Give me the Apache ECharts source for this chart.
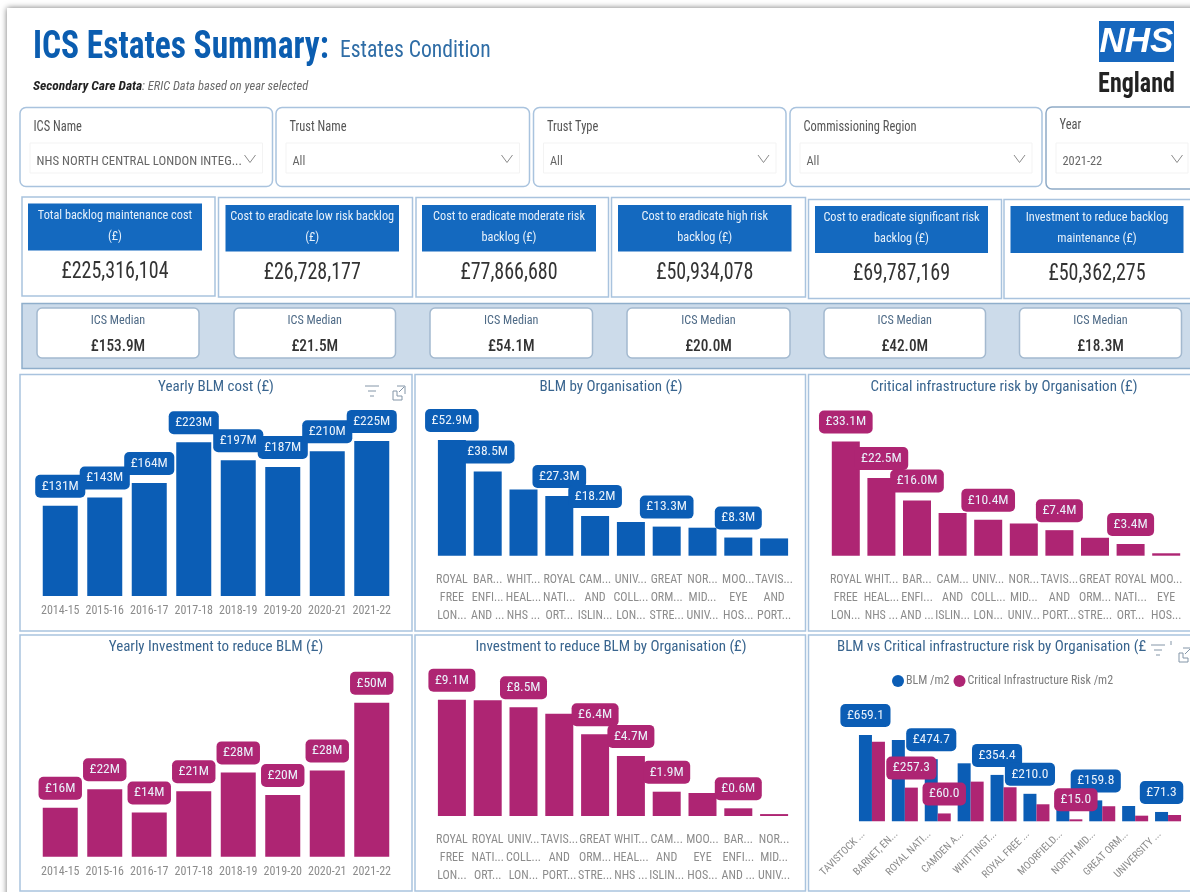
<!DOCTYPE html>
<html>
<head>
<meta charset="utf-8">
<title>ICS Estates Summary</title>
<script src="https://cdn.jsdelivr.net/npm/echarts@6/dist/echarts.min.js"></script>
<style>
html,body{margin:0;padding:0;background:#fff;overflow:hidden}
#chart{width:1190px;height:892px}
</style>
</head>
<body>
<div id="chart"></div>
<script>
// ---------- data ----------
const years = ['2014-15','2015-16','2016-17','2017-18','2018-19','2019-20','2020-21','2021-22'];
const yearlyBlm = [131,143,164,223,197,187,210,225];
const yearlyBlmLabels = ['£131M','£143M','£164M','£223M','£197M','£187M','£210M','£225M'];
const yearlyInvest = [16.0,22.1,14.5,21.4,27.6,20.2,28.2,50.4];
const yearlyInvestLabels = ['£16M','£22M','£14M','£21M','£28M','£20M','£28M','£50M'];

const blmOrgNames = ['ROYAL\nFREE\nLON...','BAR...\nENFI...\nAND ...','WHIT...\nHEAL...\nNHS ...','ROYAL\nNATI...\nORT...','CAM...\nAND\nISLIN...','UNIV...\nCOLL...\nLON...','GREAT\nORM...\nSTRE...','NOR...\nMID...\nUNIV...','MOO...\nEYE\nHOS...','TAVIS...\nAND\nPORT...'];
const blmOrg = [52.9,38.5,30.3,27.3,18.2,15.4,13.3,12.8,8.3,7.9];
const blmOrgLabels = ['£52.9M','£38.5M',null,'£27.3M','£18.2M',null,'£13.3M',null,'£8.3M',null];

const criticalOrgNames = ['ROYAL\nFREE\nLON...','WHIT...\nHEAL...\nNHS ...','BAR...\nENFI...\nAND ...','CAM...\nAND\nISLIN...','UNIV...\nCOLL...\nLON...','NOR...\nMID...\nUNIV...','TAVIS...\nAND\nPORT...','GREAT\nORM...\nSTRE...','ROYAL\nNATI...\nORT...','MOO...\nEYE\nHOS...'];
const criticalOrg = [33.1,22.5,16.0,12.4,10.4,9.3,7.4,5.2,3.4,0.7];
const criticalOrgLabels = ['£33.1M','£22.5M','£16.0M',null,'£10.4M',null,'£7.4M',null,'£3.4M',null];

const investOrgNames = ['ROYAL\nFREE\nLON...','ROYAL\nNATI...\nORT...','UNIV...\nCOLL...\nLON...','TAVIS...\nAND\nPORT...','GREAT\nORM...\nSTRE...','WHIT...\nHEAL...\nNHS ...','CAM...\nAND\nISLIN...','MOO...\nEYE\nHOS...','BAR...\nENFI...\nAND ...','NOR...\nMID...\nUNIV...'];
const investOrg = [9.1,9.05,8.5,8.0,6.4,4.7,1.9,1.8,0.6,0.15];
const investOrgLabels = ['£9.1M',null,'£8.5M',null,'£6.4M','£4.7M','£1.9M',null,'£0.6M',null];

const perM2Names = ['TAVISTOCK ...','BARNET, EN...','ROYAL NATI...','CAMDEN A...','WHITTINGT...','ROYAL FREE ...','MOORFIELD...','NORTH MID...','GREAT ORM...','UNIVERSITY ...'];
const blmPerM2 = [659.1,621,474.7,443,354.4,210.0,165,159.8,117,71.3];
const blmPerM2Labels = ['£659.1',null,'£474.7',null,'£354.4','£210.0',null,'£159.8',null,'£71.3'];
const criticalPerM2 = [608,257.3,60.0,303,260,130,15.0,115,43,48];
const criticalPerM2Labels = [null,'£257.3','£60.0',null,null,null,'£15.0',null,null,null];

const filterNames = ['ICS Name','Trust Name','Trust Type','Commissioning Region','Year'];
const filterValues = ['NHS NORTH CENTRAL LONDON INTEG...','All','All','All','2021-22'];
const kpiTitles = ['Total backlog maintenance cost\n(£)','Cost to eradicate low risk backlog\n(£)','Cost to eradicate moderate risk\nbacklog (£)','Cost to eradicate high risk\nbacklog (£)','Cost to eradicate significant risk\nbacklog (£)','Investment to reduce backlog\nmaintenance (£)'];
const kpiValues = ['£225,316,104','£26,728,177','£77,866,680','£50,934,078','£69,787,169','£50,362,275'];
const medianValues = ['£153.9M','£21.5M','£54.1M','£20.0M','£42.0M','£18.3M'];
const panelTitles = ['Yearly BLM cost (£)','BLM by Organisation (£)','Critical infrastructure risk by Organisation (£)','Yearly Investment to reduce BLM (£)','Investment to reduce BLM by Organisation (£)','BLM vs Critical infrastructure risk by Organisation (£'];

// ---------- styling ----------
const FONT = '"Roboto Condensed","Liberation Sans",sans-serif';
const BLUE = '#0B5DB5', PINK = '#AE2573', EDGE = '#A9C3DE';

const g = [];
function box(x, y, x2, y2, o) {
  o = o || {};
  g.push({type:'rect', silent:true, z:o.z||0,
    shape:{x, y, width:x2-x, height:y2-y, r:o.r||0},
    style:{fill:o.fill||'#fff', stroke:o.stroke||null, lineWidth:o.lw||1.5,
           shadowBlur:o.blur||0, shadowColor:o.shadow||'transparent'}});
}
function txt(text, x, y, size, fill, o) {
  o = o || {};
  const yy = y + 1.5;
  const el = {type:'text', silent:true, z:o.z||1,
    style:{text, x, y:yy, fontSize:size, fontFamily:o.family||FONT, fontWeight:o.weight||'normal',
      fontStyle:o.style||'normal', fill, align:o.align||'left', verticalAlign:'middle', lineHeight:o.lh||undefined}};
  if (o.sx) { el.scaleX = o.sx; el.originX = x; el.originY = yy; }
  g.push(el);
}
function line(points, color, lw) {
  g.push({type:'polyline', silent:true, z:1, shape:{points},
    style:{stroke:color, lineWidth:lw||1, fill:null}});
}

// page card
box(7, 8, 1300, 1000, {blur:6, shadow:'rgba(0,0,0,.55)'});

// header
txt('ICS Estates Summary:', 33, 47, 38, '#0B5DB0', {weight:'bold', sx:0.88});
txt('Estates Condition', 340, 50, 23, '#2F6DA6', {sx:0.94});
txt('Secondary Care Data', 33, 85, 13.5, '#222', {weight:'bold', style:'italic'});
txt(': ERIC Data based on year selected', 142, 85, 12.5, '#6a6a6a', {style:'italic'});

// logo
box(1099, 21, 1174, 62, {fill:'#1667BE'});
txt('NHS', 1136.5, 41, 35, '#fff', {weight:'bold', style:'italic', align:'center', family:'"Liberation Sans",sans-serif'});
txt('England', 1136.5, 83.5, 27, '#222', {weight:'bold', align:'center', sx:0.89});

// filters
const filterX = [[20,272.5],[276,529.5],[533.5,786],[790,1042],[1046,1260]];
filterNames.forEach((n,i)=>{
  const [a,b]=filterX[i], yr=i===4;
  box(a, yr?107:107.5, b, yr?189:186.5, {r:6, stroke:yr?'#8FAAC6':EDGE});
  box(a+10, 143, Math.min(b-10,1188), 173, {fill:'#fff', stroke:'#F3F3F3', lw:1, z:1});
  txt(n, a+13.5, yr?124:126, 14, '#555', {z:2, sx:0.89});
  txt(filterValues[i], a+16.5, 160, i===0?13.5:13, '#666', {z:2, sx:0.95});
  const cx = i===4 ? 1177 : b-22.5;
  line([[cx-5.5,155],[cx,162.5],[cx+5.5,155]], '#8b8b8b', 1);
});

// KPI cards
const kpiX = [[22,215],[218.5,412.5],[416,608.5],[611.5,805.5],[808.5,1001.5],[1004,1260]];
const kpiHead = [[28,202],[225.5,399],[422,596],[618,791.5],[815,988],[1010.5,1183.5]];
const kpiY = [[197,296],[197.5,297],[197.5,297],[197.5,297],[199.5,298.5],[199.5,298.5]];
const kpiHeadY = [[203.5,250.5],[205,251.5],[205,251.5],[205,251.5],[206,253],[206,253]];
kpiTitles.forEach((t,i)=>{
  box(kpiX[i][0],kpiY[i][0],kpiX[i][1],kpiY[i][1],{stroke:EDGE});
  box(kpiHead[i][0],kpiHeadY[i][0],kpiHead[i][1],kpiHeadY[i][1],{fill:'#1469BF',z:1});
  const cx=(kpiHead[i][0]+kpiHead[i][1])/2;
  txt(t,cx,kpiHeadY[i][0]+21,13.2,'#E6F0FA',{align:'center',lh:21,z:2,sx:0.93});
  txt(kpiValues[i],cx,kpiHeadY[i][1]+20,23,'#333',{align:'center',z:2,sx:0.87});
});

// median band
box(22, 303.5, 1260, 368.5, {fill:'#CCDBEA', stroke:'#8FAECB'});
const medX = [[37,199],[234,395.5],[430,592.5],[627,790],[824,985.5],[1019.5,1181.5]];
medianValues.forEach((m,i)=>{
  const [a,b]=medX[i], cx=(a+b)/2;
  box(a,308,b,358,{r:5,stroke:'#A3B9CF',z:1});
  txt('ICS Median',cx,319.5,13.5,'#4E6A86',{align:'center',z:2,sx:0.9});
  txt(m,cx,345.5,17,'#333',{align:'center',z:2,sx:0.9,weight:500});
});

// chart panels
const panelX = [[20,412],[415,805.5],[808.5,1260]];
const panelY = [[374.5,631],[635,891]];
panelY.forEach(([t,b])=>panelX.forEach(([l,r])=>box(l,t,r,b,{stroke:EDGE})));

// panel icons
function icons(fx, fy, ex, ey) {
  line([[fx-7,fy-5],[fx+7,fy-5]],'#8496A8',1);
  line([[fx-4,fy],[fx+4,fy]],'#8496A8',1);
  line([[fx-2,fy+5],[fx+2,fy+5]],'#8496A8',1);
  line([[ex-2,ey-7],[ex+6,ey-7],[ex+6,ey+1]],'#8496A8',1);
  line([[ex-6,ey-2],[ex-6,ey+7],[ex+3,ey+7],[ex+3,ey+3],[ex-2,ey+3],[ex-2,ey-2],[ex-6,ey-2]],'#8496A8',1);
  line([[ex,ey-1],[ex+5,ey-6]],'#8496A8',1);
}
icons(372,391,399,393);
icons(1158,650,1185,655);
line([[1171,641],[1171,645]],'#8496A8',1);

// ---------- charts ----------
const grids = [
  {left:38,  width:356, top:396, height:200},
  {left:434, width:358, top:396, height:159.7},
  {left:828, width:356, top:396, height:159.7},
  {left:38,  width:356, top:660, height:196.7},
  {left:434, width:358, top:660, height:156},
  {left:855.5, width:329, top:690, height:131.3}
];
const yMax = [290.1, 73, 46.3, 64.4, 12.2, 1003];
const xNames = [years, blmOrgNames, criticalOrgNames, years, investOrgNames, perM2Names];

function labelled(values, labels) {
  return values.map((v,i)=>({value:v, label:{show:labels[i]!==null, formatter:labels[i]||''}}));
}
function barSeries(idx, name, values, labels, color, width) {
  return {type:'bar', name, xAxisIndex:idx, yAxisIndex:idx, barWidth:width, barGap:0,
    data:labelled(values,labels), itemStyle:{color},
    label:{show:true, position:'top', distance:8, color:'#EAF2FB', fontFamily:FONT, fontSize:13.5, lineHeight:14,
      backgroundColor:color, borderRadius:5, padding:[4.5,6.5]}, silent:true, animation:false};
}

const titleCx = [216, 611, 1004, 216, 611];
const option = {
  animation:false,
  backgroundColor:'#fff',
  graphic:{elements:g},
  title: panelTitles.map((t,i)=>{
    const top = i<3 ? 380 : 640;
    const common = {text:t, top, padding:0, textStyle:{color:'#39658F', fontFamily:FONT, fontSize:15, fontWeight:'normal'}};
    return i<5 ? Object.assign(common,{left:titleCx[i], textAlign:'center'}) : Object.assign(common,{left:837});
  }),
  legend:{
    left:887, top:670, itemWidth:12, itemHeight:12, itemGap:4, icon:'circle', selectedMode:false,
    textStyle:{color:'#7d7d7d', fontFamily:FONT, fontSize:12, padding:[0,0,0,-3]},
    data:['BLM /m2','Critical Infrastructure Risk /m2']
  },
  grid: grids,
  xAxis: grids.map((_,i)=>({
    type:'category', gridIndex:i, data:xNames[i],
    axisLine:{show:false}, axisTick:{show:false},
    axisLabel:{interval:0, color:'#8c8c8c', fontFamily:FONT, fontSize:i===5?10.5:12,
      lineHeight:i===0||i===3?14:18, margin:i===0||i===3?8:(i===5?3:15), rotate:i===5?45:0,
      padding:i===5?[0,12,0,0]:0}
  })),
  yAxis: grids.map((_,i)=>({type:'value', gridIndex:i, min:0, max:yMax[i], show:false})),
  series:[
    barSeries(0,'Yearly BLM cost',yearlyBlm,yearlyBlmLabels,BLUE,35),
    barSeries(1,'BLM by Organisation',blmOrg,blmOrgLabels,BLUE,28),
    barSeries(2,'Critical infrastructure risk',criticalOrg,criticalOrgLabels,PINK,28),
    barSeries(3,'Yearly Investment',yearlyInvest,yearlyInvestLabels,PINK,35),
    barSeries(4,'Investment by Organisation',investOrg,investOrgLabels,PINK,28),
    barSeries(5,'BLM /m2',blmPerM2,blmPerM2Labels,BLUE,13),
    barSeries(5,'Critical Infrastructure Risk /m2',criticalPerM2,criticalPerM2Labels,PINK,13)
  ]
};
echarts.init(document.getElementById('chart')).setOption(option);
</script>
</body>
</html>
